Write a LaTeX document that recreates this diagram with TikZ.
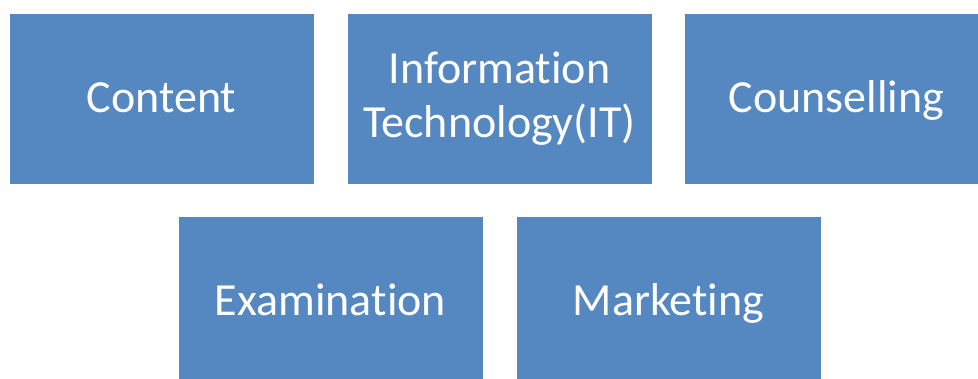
\documentclass[tikz,border=0pt]{standalone}
\usepackage{fontspec}
\setmainfont[Ligatures=NoCommon]{Carlito}
\definecolor{boxblue}{HTML}{5587C0}
\begin{document}
\begin{tikzpicture}[x=1pt,y=-1pt,
  blk/.style={fill=boxblue,draw=white,line width=0.8pt,text=white,
    font=\fontsize{46}{54}\selectfont,align=center,inner sep=0pt,
    minimum width=305pt,minimum height=171pt},
  oneline/.style={text height=40pt,text depth=13pt}]
\useasboundingbox (0,0) rectangle (978,378);
\begin{scope}
\clip (0,0) rectangle (978,378);
\node[blk,oneline] (content) at (161.5,98.5) {Content};
\node[blk] (it) at (499.5,98.5) {Information\\Technology(IT)};
\node[blk,oneline] (couns) at (836.5,98.5) {Counselling};
\node[blk,oneline] (exam) at (330.5,301.5) {Examination};
\node[blk,oneline] (mkt) at (668.5,301.5) {Marketing};
\end{scope}
\end{tikzpicture}
\end{document}
